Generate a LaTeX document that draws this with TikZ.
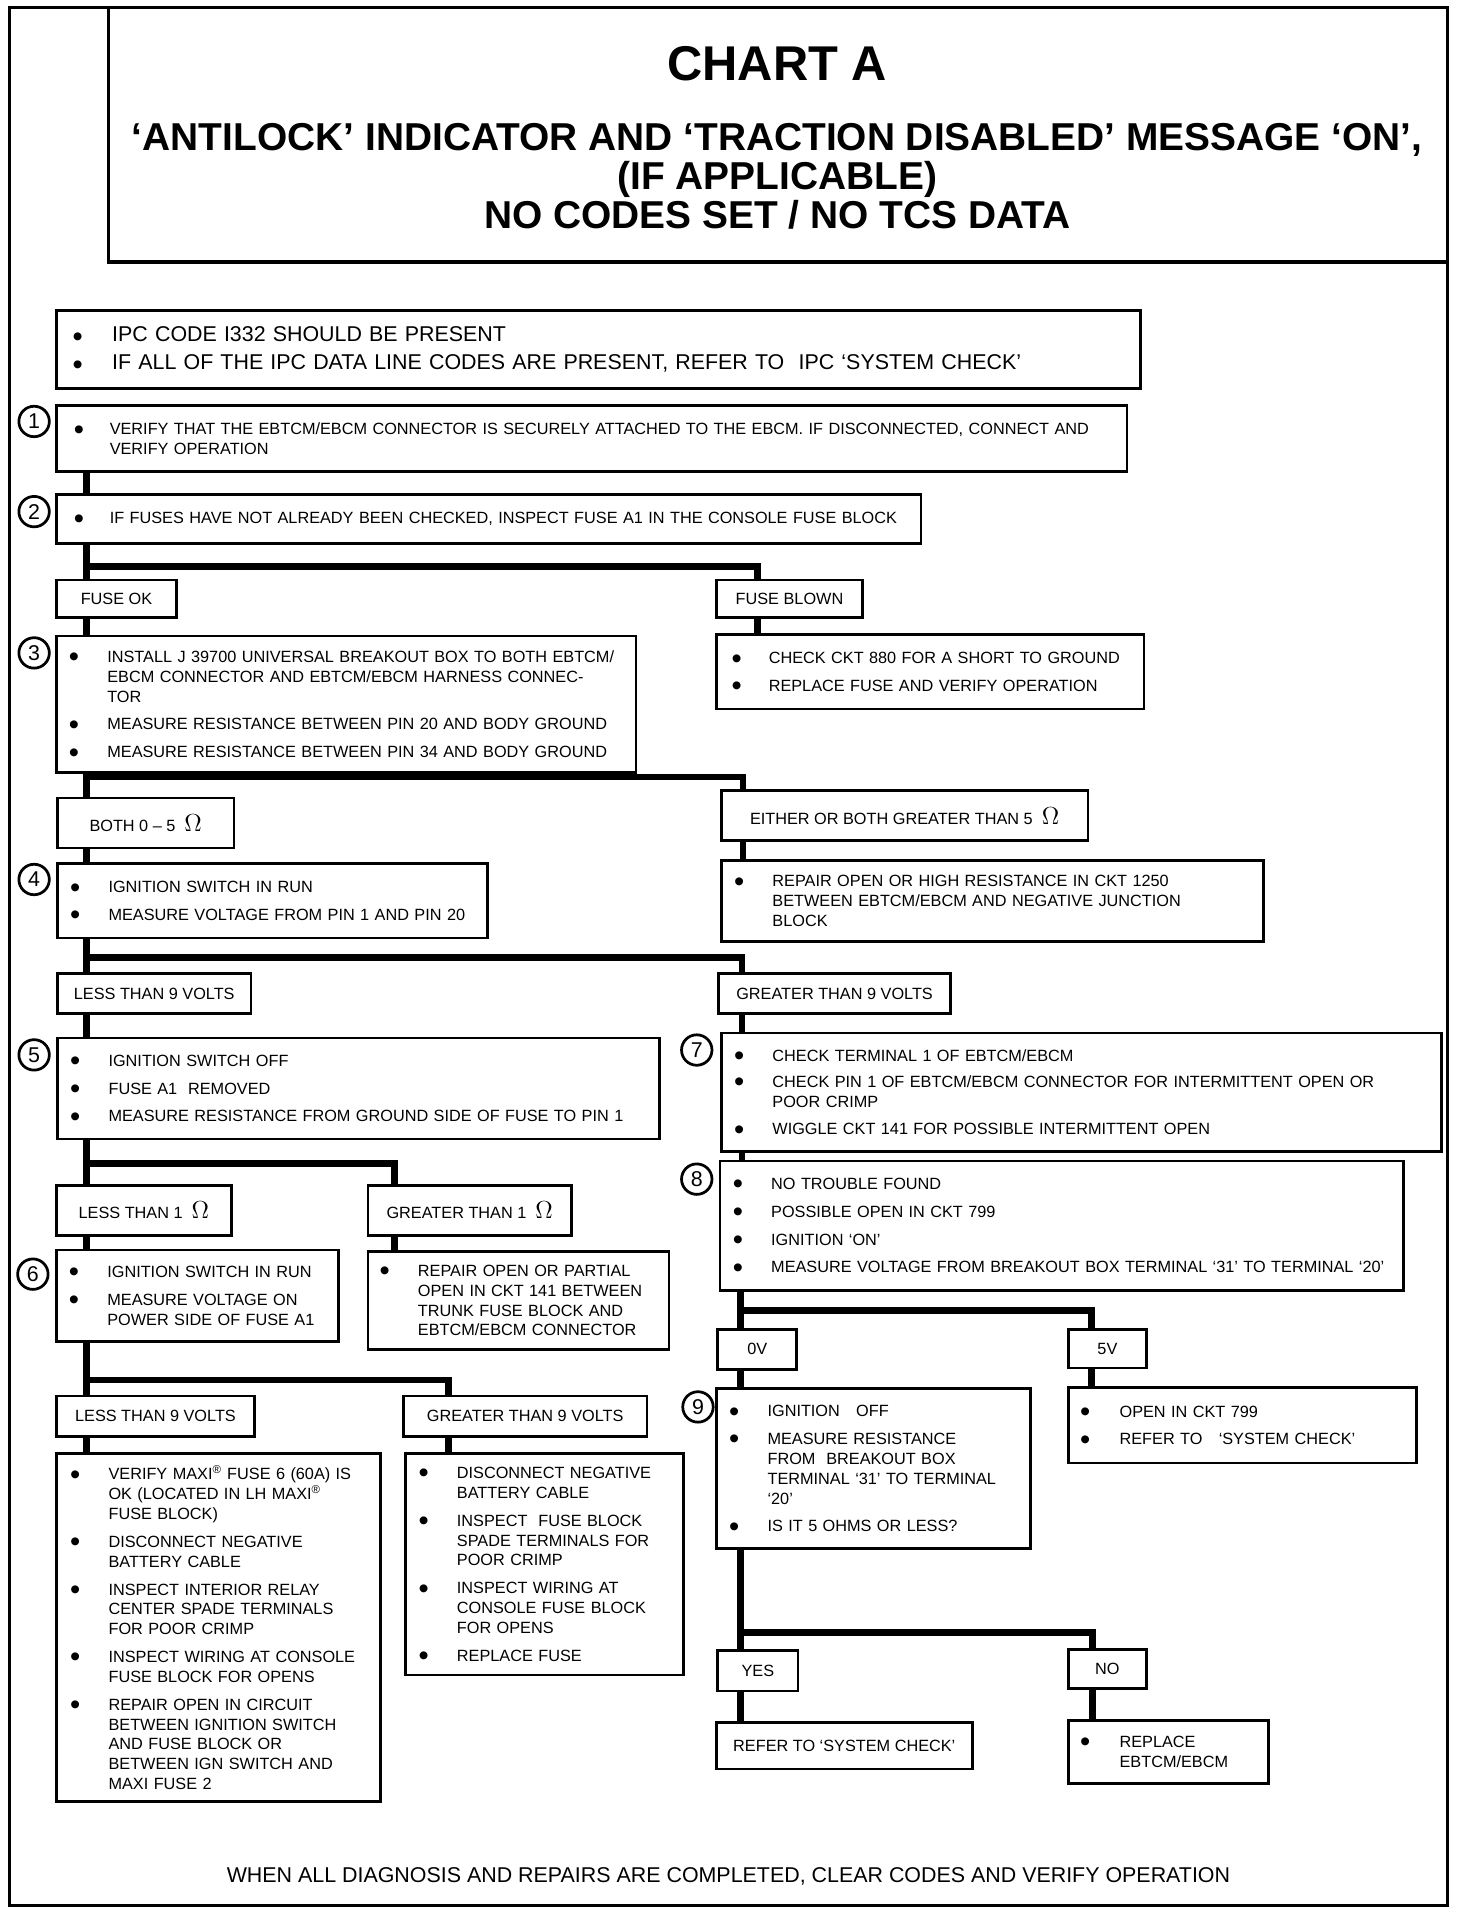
\documentclass[tikz,border=0pt]{standalone}
\usepackage{fontspec}
\setmainfont{Liberation Sans}
\usepackage{tikz}

\newlength{\upx}\setlength{\upx}{0.025cm}
\newcommand{\txtsm}{\fontsize{9.5}{11.6}\selectfont}
\newcommand{\txtmd}{\fontsize{12.5}{16.4}\selectfont}
\newcommand{\ttlbig}{\fontsize{28.5}{30}\selectfont\bfseries}
\newcommand{\ttlmd}{\fontsize{22.7}{22.8}\selectfont\bfseries}
\newcommand{\dotb}{\kern-2.5\upx\raisebox{-2.6pt}[0pt][0pt]{\fontsize{17}{17}\selectfont\textbullet}}
\newcommand{\itm}[2][29]{\mbox{\makebox[#1\upx][l]{\dotb}#2}}
\newcommand{\cnt}[2][29]{\mbox{\hspace*{#1\upx}#2}}
\newcommand{\ohm}{{\fontsize{14}{14}\selectfont$\Omega$}}
\newcommand{\maxi}{MAXI\textsuperscript{\textregistered}}

\begin{document}
\begin{tikzpicture}[x=0.025cm,y=-0.025cm,
  stepbox/.style={draw,line width=1.6pt,anchor=north west,align=left,inner xsep=13\upx,inner ysep=0pt,font=\txtsm},
  tagbox/.style={draw,line width=1.6pt,anchor=north west,align=center,inner sep=0pt,font=\txtsm},
  numc/.style={circle,draw,line width=1.6pt,minimum size=25\upx,inner sep=0pt,font=\fontsize{12.5}{12.5}\selectfont},
  conn/.style={line width=3.8pt},
  frame/.style={line width=1.6pt}]
\useasboundingbox (0,0) rectangle (1208,1568);
\draw[frame] (8,6) rectangle (1188,1564);
\draw[line width=2.2pt] (89,6) |- (1188,215);
\node[font=\ttlbig] (chart) at (638,52) {CHART A};
\node[font=\ttlmd,align=center] (head) at (638,145) {`ANTILOCK' INDICATOR AND `TRACTION DISABLED' MESSAGE `ON',\\(IF APPLICABLE)\\NO CODES SET / NO TCS DATA};

% left column
\node[stepbox,font=\txtmd,inner xsep=16\upx,text width=858\upx,minimum height=64\upx] (ipc) at (45,254)
  {\itm[30]{IPC CODE I332 SHOULD BE PRESENT}\\
   \itm[30]{IF ALL OF THE IPC DATA LINE CODES ARE PRESENT, REFER TO\ \ IPC `SYSTEM CHECK'}};
\node[stepbox,inner xsep=17\upx,text width=845\upx,minimum height=54\upx] (s1) at (45,332)
  {\itm[27]{VERIFY THAT THE EBTCM/EBCM CONNECTOR IS SECURELY ATTACHED TO THE EBCM. IF DISCONNECTED, CONNECT AND}\\
   \cnt[27]{VERIFY OPERATION}};
\node[stepbox,inner xsep=17\upx,text width=676\upx,minimum height=40\upx] (s2) at (45,405)
  {\itm[27]{IF FUSES HAVE NOT ALREADY BEEN CHECKED, INSPECT FUSE A1 IN THE CONSOLE FUSE BLOCK}};
\node[tagbox,minimum width=99\upx,minimum height=31\upx] (fok) at (45,475) {FUSE OK};
\node[tagbox,minimum width=120\upx,minimum height=31\upx] (fblown) at (587,475) {FUSE BLOWN};
\node[stepbox,text width=450\upx,minimum height=112\upx] (s3) at (45,521)
  {\itm{INSTALL J 39700 UNIVERSAL BREAKOUT BOX TO BOTH EBTCM/}\\
   \cnt{EBCM CONNECTOR AND EBTCM/EBCM HARNESS CONNEC-}\\
   \cnt{TOR}\\[6.5\upx]
   \itm{MEASURE RESISTANCE BETWEEN PIN 20 AND BODY GROUND}\\[6.5\upx]
   \itm{MEASURE RESISTANCE BETWEEN PIN 34 AND BODY GROUND}};
\node[stepbox,inner xsep=15\upx,text width=321\upx,minimum height=61\upx] (fb) at (587,520)
  {\itm[28]{CHECK CKT 880 FOR A SHORT TO GROUND}\\[6.5\upx]
   \itm[28]{REPLACE FUSE AND VERIFY OPERATION}};
\node[tagbox,minimum width=145\upx,minimum height=41\upx] (both) at (46,654) {BOTH 0 -- 5\ \ \ohm};
\node[tagbox,minimum width=301\upx,minimum height=41\upx] (either) at (591,648) {EITHER OR BOTH GREATER THAN 5\ \ \ohm};
\node[stepbox,text width=327\upx,minimum height=61\upx] (s4) at (46,708)
  {\itm{IGNITION SWITCH IN RUN}\\[6.5\upx]
   \itm{MEASURE VOLTAGE FROM PIN 1 AND PIN 20}};
\node[stepbox,text width=419\upx,minimum height=67\upx] (ei) at (591,705)
  {\itm{REPAIR OPEN OR HIGH RESISTANCE IN CKT 1250}\\
   \cnt{BETWEEN EBTCM/EBCM AND NEGATIVE JUNCTION}\\
   \cnt{BLOCK}};
\node[tagbox,minimum width=159\upx,minimum height=33\upx] (lt9) at (46,798) {LESS THAN 9 VOLTS};
\node[tagbox,minimum width=190\upx,minimum height=33\upx] (gt9) at (589,798) {GREATER THAN 9 VOLTS};
\node[stepbox,text width=468\upx,minimum height=83\upx] (s5) at (46,851)
  {\itm{IGNITION SWITCH OFF}\\[6.5\upx]
   \itm{FUSE A1\ \ REMOVED}\\[6.5\upx]
   \itm{MEASURE RESISTANCE FROM GROUND SIDE OF FUSE TO PIN 1}};
\node[tagbox,minimum width=144\upx,minimum height=41\upx] (lt1) at (45,972) {LESS THAN 1\ \ \ohm};
\node[tagbox,minimum width=167\upx,minimum height=41\upx] (gt1) at (301,972) {GREATER THAN 1\ \ \ohm};
\node[stepbox,text width=206\upx,minimum height=75\upx] (s6) at (45,1025)
  {\itm{IGNITION SWITCH IN RUN}\\[6.5\upx]
   \itm{MEASURE VOLTAGE ON}\\
   \cnt{POWER SIDE OF FUSE A1}};
\node[stepbox,inner xsep=12\upx,text width=223\upx,minimum height=81\upx] (g1b) at (301,1026)
  {\itm{REPAIR OPEN OR PARTIAL}\\
   \cnt{OPEN IN CKT 141 BETWEEN}\\
   \cnt{TRUNK FUSE BLOCK AND}\\
   \cnt{EBTCM/EBCM CONNECTOR}};
\node[tagbox,minimum width=163\upx,minimum height=33\upx] (lt9b) at (45,1145) {LESS THAN 9 VOLTS};
\node[tagbox,minimum width=200\upx,minimum height=33\upx] (gt9b) at (330,1145) {GREATER THAN 9 VOLTS};
\node[stepbox,inner xsep=14\upx,text width=238\upx,minimum height=286\upx] (ll) at (45,1192)
  {\itm{VERIFY \maxi\ FUSE 6 (60A) IS}\\
   \cnt{OK (LOCATED IN LH \maxi}\\
   \cnt{FUSE BLOCK)}\\[6.5\upx]
   \itm{DISCONNECT NEGATIVE}\\
   \cnt{BATTERY CABLE}\\[6.5\upx]
   \itm{INSPECT INTERIOR RELAY}\\
   \cnt{CENTER SPADE TERMINALS}\\
   \cnt{FOR POOR CRIMP}\\[6.5\upx]
   \itm{INSPECT WIRING AT CONSOLE}\\
   \cnt{FUSE BLOCK FOR OPENS}\\[6.5\upx]
   \itm{REPAIR OPEN IN CIRCUIT}\\
   \cnt{BETWEEN IGNITION SWITCH}\\
   \cnt{AND FUSE BLOCK OR}\\
   \cnt{BETWEEN IGN SWITCH AND}\\
   \cnt{MAXI FUSE 2}};
\node[stepbox,text width=202\upx,minimum height=182\upx] (lr) at (332,1192)
  {\itm{DISCONNECT NEGATIVE}\\
   \cnt{BATTERY CABLE}\\[6.5\upx]
   \itm{INSPECT\ \ FUSE BLOCK}\\
   \cnt{SPADE TERMINALS FOR}\\
   \cnt{POOR CRIMP}\\[6.5\upx]
   \itm{INSPECT WIRING AT}\\
   \cnt{CONSOLE FUSE BLOCK}\\
   \cnt{FOR OPENS}\\[6.5\upx]
   \itm{REPLACE FUSE}};

% right column
\node[stepbox,text width=565\upx,minimum height=97\upx] (s7) at (591,847)
  {\itm{CHECK TERMINAL 1 OF EBTCM/EBCM}\\[5\upx]
   \itm{CHECK PIN 1 OF EBTCM/EBCM CONNECTOR FOR INTERMITTENT OPEN OR}\\
   \cnt{POOR CRIMP}\\[6.5\upx]
   \itm{WIGGLE CKT 141 FOR POSSIBLE INTERMITTENT OPEN}};
\node[stepbox,text width=535\upx,minimum height=106\upx] (s8) at (590,952)
  {\itm{NO TROUBLE FOUND}\\[6.5\upx]
   \itm{POSSIBLE OPEN IN CKT 799}\\[6.5\upx]
   \itm{IGNITION `ON'}\\[6.5\upx]
   \itm{MEASURE VOLTAGE FROM BREAKOUT BOX TERMINAL `31' TO TERMINAL `20'}};
\node[tagbox,minimum width=65\upx,minimum height=33\upx] (v0) at (588,1090) {0V};
\node[tagbox,minimum width=64\upx,minimum height=32\upx] (v5) at (876,1090) {5V};
\node[stepbox,text width=232\upx,minimum height=131\upx] (s9) at (587,1139)
  {\itm{IGNITION\ \ \ OFF}\\[6.5\upx]
   \itm{MEASURE RESISTANCE}\\
   \cnt{FROM\ \ BREAKOUT BOX}\\
   \cnt{TERMINAL `31' TO TERMINAL}\\
   \cnt{`20'}\\[6.5\upx]
   \itm{IS IT 5 OHMS OR LESS?}};
\node[stepbox,inner xsep=12\upx,text width=262\upx,minimum height=62\upx] (o799) at (876,1138)
  {\itm[30]{OPEN IN CKT 799}\\[6.5\upx]
   \itm[30]{REFER TO\ \ \ `SYSTEM CHECK'}};
\node[tagbox,minimum width=66\upx,minimum height=33\upx] (yes) at (588,1354) {YES};
\node[tagbox,minimum width=64\upx,minimum height=32\upx] (no) at (876,1353) {NO};
\node[tagbox,minimum width=210\upx,minimum height=38\upx] (ref) at (587,1413) {REFER TO `SYSTEM CHECK'};
\node[stepbox,inner xsep=12\upx,text width=140\upx,minimum height=52\upx] (repl) at (876,1411)
  {\itm[30]{REPLACE}\\
   \cnt[30]{EBTCM/EBCM}};

\node[numc] (n1) at (28,346) {1};
\node[numc] (n2) at (28,420) {2};
\node[numc] (n3) at (28,536) {3};
\node[numc] (n4) at (28,722) {4};
\node[numc] (n5) at (28,866) {5};
\node[numc] (n6) at (27,1046) {6};
\node[numc] (n7) at (572,862) {7};
\node[numc] (n8) at (572,968) {8};
\node[numc] (n9) at (573,1155) {9};

\coordinate (b2) at (71,465); \coordinate (r2) at (622,465);
\coordinate (b3) at (71,638); \coordinate (r3) at (610,638);
\coordinate (b4) at (71,786); \coordinate (r4) at (609,786);
\coordinate (b5) at (71,955); \coordinate (r5) at (324,955);
\coordinate (b6) at (71,1133); \coordinate (r6) at (368,1133);
\coordinate (b8) at (608,1076); \coordinate (r8) at (896,1076);
\coordinate (b9) at (608,1340); \coordinate (r9) at (897,1340);

\draw[conn] (s1.south -| b2) -- (s2.north -| b2);
\draw[conn] (s2.south -| b2) -- (fok.north -| b2);
\draw[conn] (b2) -- (r2) -- (fblown.north -| r2);
\draw[conn] (fok.south -| b2) -- (s3.north -| b2);
\draw[conn] (fblown.south -| r2) -- (fb.north -| r2);
\draw[conn] (s3.south -| b3) -- (both.north -| b3);
\draw[conn] (b3) -- (r3) -- (either.north -| r3);
\draw[conn] (both.south -| b3) -- (s4.north -| b3);
\draw[conn] (either.south -| r3) -- (ei.north -| r3);
\draw[conn] (s4.south -| b4) -- (lt9.north -| b4);
\draw[conn] (b4) -- (r4) -- (gt9.north -| r4);
\draw[conn] (lt9.south -| b4) -- (s5.north -| b4);
\draw[conn] (gt9.south -| r4) -- (s7.north -| r4);
\draw[conn] (s7.south -| r4) -- (s8.north -| r4);
\draw[conn] (s5.south -| b5) -- (lt1.north -| b5);
\draw[conn] (b5) -- (r5) -- (gt1.north -| r5);
\draw[conn] (lt1.south -| b5) -- (s6.north -| b5);
\draw[conn] (gt1.south -| r5) -- (g1b.north -| r5);
\draw[conn] (s6.south -| b6) -- (lt9b.north -| b6);
\draw[conn] (b6) -- (r6) -- (gt9b.north -| r6);
\draw[conn] (lt9b.south -| b6) -- (ll.north -| b6);
\draw[conn] (gt9b.south -| r6) -- (lr.north -| r6);
\draw[conn] (s8.south -| b8) -- (v0.north -| b8);
\draw[conn] (b8) -- (r8) -- (v5.north -| r8);
\draw[conn] (v0.south -| b8) -- (s9.north -| b8);
\draw[conn] (v5.south -| r8) -- (o799.north -| r8);
\draw[conn] (s9.south -| b9) -- (yes.north -| b9);
\draw[conn] (b9) -- (r9) -- (no.north -| r9);
\draw[conn] (yes.south -| b9) -- (ref.north -| b9);
\draw[conn] (no.south -| r9) -- (repl.north -| r9);

\node[font=\txtmd] (foot) at (598,1540) {WHEN ALL DIAGNOSIS AND REPAIRS ARE COMPLETED, CLEAR CODES AND VERIFY OPERATION};
\end{tikzpicture}
\end{document}
